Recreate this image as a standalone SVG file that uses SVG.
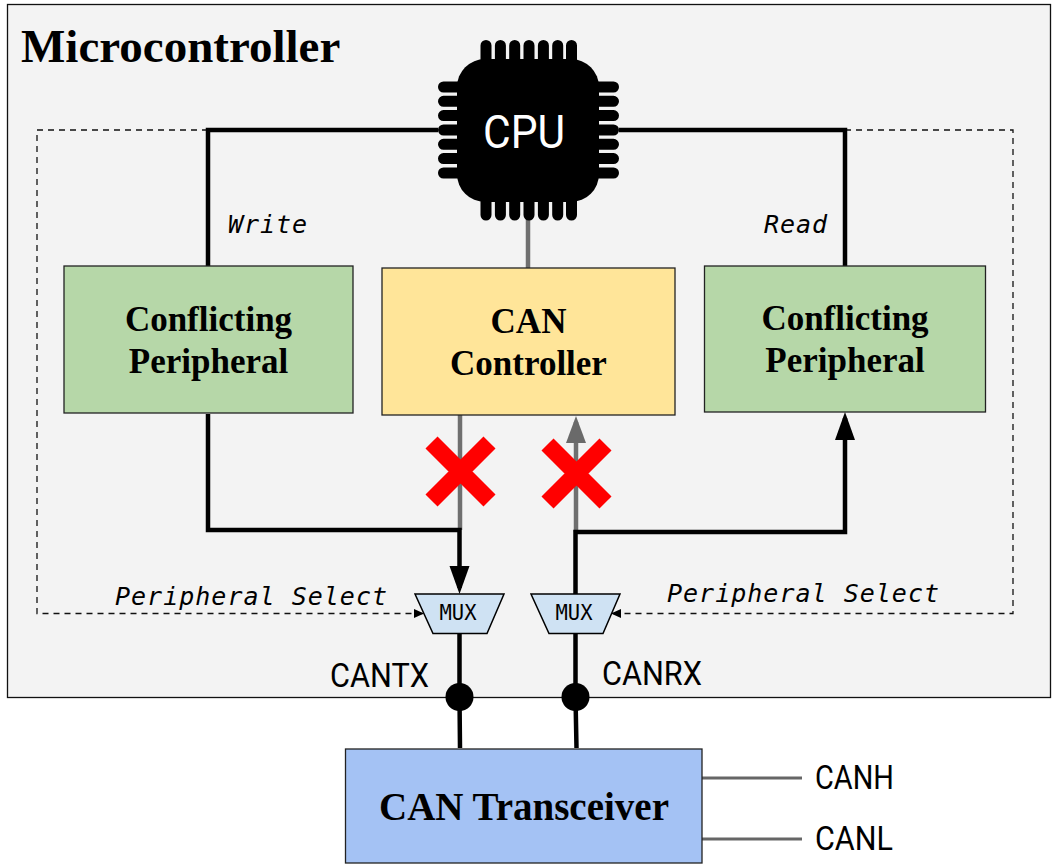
<svg xmlns="http://www.w3.org/2000/svg" width="1052" height="866" viewBox="0 0 1052 866">
<style>
.serif{font-family:"Liberation Serif",serif;font-weight:700;fill:#000}
.box{font-size:35px;text-anchor:middle}
.sig{font-family:Roboto,"Liberation Sans",sans-serif;font-size:33.500px;fill:#000}
.mono{font-family:"DejaVu Sans Mono","Liberation Mono",monospace;font-style:italic;font-size:25px;fill:#000}
.muxt{font-family:"DejaVu Sans Mono","Liberation Mono",monospace;font-size:20.500px;fill:#000;text-anchor:middle}
.k{fill:none;stroke:#000;stroke-width:4.500}
.g{fill:none;stroke:#6f6f6f;stroke-width:4.500}
.t{fill:none;stroke:#666;stroke-width:3}
.d{fill:none;stroke:#111;stroke-width:1.300;stroke-dasharray:6 5}
.n{stroke:#222;stroke-width:1.300}
.mux{fill:#cfe2f3;stroke:#000;stroke-width:1.500}
.x{stroke:#f00;stroke-width:17;fill:none}
.pin{stroke:#000;stroke-width:11;stroke-linecap:round;fill:none}
</style>
<defs>
<marker id="ak" markerUnits="userSpaceOnUse" markerWidth="30" markerHeight="22" refX="22" refY="10" orient="auto"><path d="M0 0L28 10L0 20Z" fill="#000"/></marker>
<marker id="ag" markerUnits="userSpaceOnUse" markerWidth="30" markerHeight="22" refX="21" refY="10" orient="auto"><path d="M0 0L27 10L0 20Z" fill="#6a6a6a"/></marker>
<marker id="ad" markerUnits="userSpaceOnUse" markerWidth="11" markerHeight="10" refX="10" refY="4.500" orient="auto"><path d="M0 0L10 4.500L0 9Z" fill="#000"/></marker>
</defs>
<rect id="microcontroller" x="7.500" y="4.500" width="1043" height="693" fill="#f3f3f3" stroke="#111" stroke-width="1.300"/>
<text class="serif" x="21" y="62" font-size="47">Microcontroller</text>
<g id="connectors">
<path class="d" d="M208 130H37V613.500H424" marker-end="url(#ad)"/>
<path class="d" d="M845 130H1013V613.500H611" marker-end="url(#ad)"/>
<path class="k" d="M438 130H208V266M619 130H845V266"/>
<path class="g" d="M528 215V268"/>
<path class="g" d="M460 415V530"/>
<path class="g" d="M576 532V422" marker-end="url(#ag)"/>
<path class="k" d="M208 414V530H459.500V588" marker-end="url(#ak)"/>
<path class="k" d="M575.500 594V532H845V418" marker-end="url(#ak)"/>
<path class="k" d="M459.500 633V697L460 748M575.500 633V697L576.500 748"/>
<circle cx="459.500" cy="697" r="14" fill="#000"/>
<circle cx="575.500" cy="697" r="14" fill="#000"/>
<path class="t" d="M702 778H802M702 839H802"/>
</g>
<g id="cpu">
<path class="pin" d="M486 45.500V70M500.400 45.500V70M514.700 45.500V70M529 45.500V70M543.400 45.500V70M557.700 45.500V70M571.500 45.500V70M486 215V190M500.400 215V190M514.700 215V190M529 215V190M543.400 215V190M557.700 215V190M571.500 215V190M443.500 87H470M443.500 101.300H470M443.500 115.600H470M443.500 130H470M443.500 144.300H470M443.500 158.600H470M443.500 173H470M613.500 87H590M613.500 101.300H590M613.500 115.600H590M613.500 130H590M613.500 144.300H590M613.500 158.600H590M613.500 173H590"/>
<rect x="457" y="59" width="142" height="143" rx="28" fill="#000"/>
<text x="524" y="148" font-family="Roboto,'Liberation Sans',sans-serif" font-size="47" fill="#fff" text-anchor="middle" textLength="82" lengthAdjust="spacingAndGlyphs">CPU</text>
</g>
<g id="peripheral-left">
<rect class="n" x="64" y="266" width="289" height="147" fill="#b6d7a8"/>
<text class="serif box" x="208.500" y="331">Conflicting</text>
<text class="serif box" x="208.500" y="373">Peripheral</text>
</g>
<g id="can-controller">
<rect class="n" x="382" y="268" width="293" height="147" fill="#ffe599"/>
<text class="serif box" x="528.500" y="333">CAN</text>
<text class="serif box" x="528.500" y="375">Controller</text>
</g>
<g id="peripheral-right">
<rect class="n" x="704.500" y="266" width="281" height="146" fill="#b6d7a8"/>
<text class="serif box" x="845" y="330">Conflicting</text>
<text class="serif box" x="845" y="372">Peripheral</text>
</g>
<g id="cross-left"><path class="x" d="M431.500 442.500L489.500 500.500M489.500 442.500L431.500 500.500"/></g>
<g id="cross-right"><path class="x" d="M547.500 444.500L605.500 502.500M605.500 444.500L547.500 502.500"/></g>
<g id="mux-left">
<path class="mux" d="M415 594H504L487 633.500H433Z"/>
<text class="muxt" x="458" y="620">MUX</text>
</g>
<g id="mux-right">
<path class="mux" d="M531 594H620L603 633.500H549Z"/>
<text class="muxt" x="574" y="620">MUX</text>
</g>
<g id="transceiver">
<rect class="n" x="345.500" y="749" width="356.500" height="114" fill="#a4c2f4"/>
<text class="serif" x="524" y="820" font-size="39" text-anchor="middle">CAN Transceiver</text>
</g>
<g id="labels">
<text class="mono" x="228" y="233" textLength="79">Write</text>
<text class="mono" x="764" y="233" textLength="63">Read</text>
<text class="mono" x="115" y="605" textLength="272">Peripheral Select</text>
<text class="mono" x="667" y="602" textLength="272">Peripheral Select</text>
<text class="sig" x="330" y="687" textLength="99" lengthAdjust="spacingAndGlyphs">CANTX</text>
<text class="sig" x="602" y="685" textLength="100" lengthAdjust="spacingAndGlyphs">CANRX</text>
<text class="sig" x="815" y="789" textLength="79" lengthAdjust="spacingAndGlyphs">CANH</text>
<text class="sig" x="815" y="850" textLength="78" lengthAdjust="spacingAndGlyphs">CANL</text>
</g>
</svg>
